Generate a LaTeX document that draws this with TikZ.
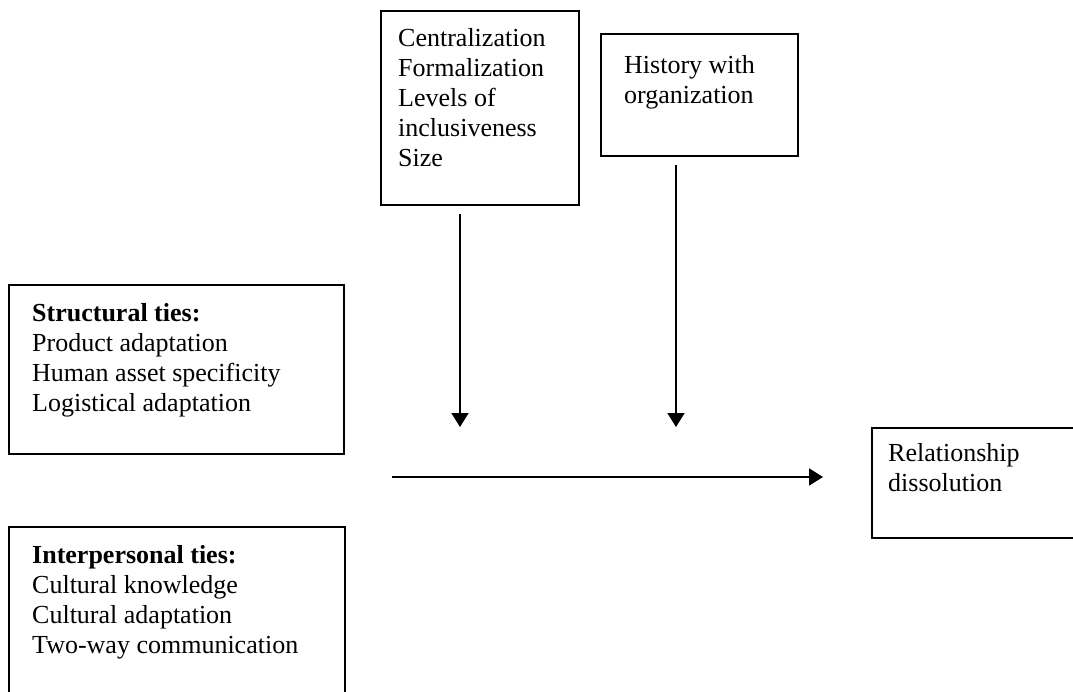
\documentclass[tikz,border=0pt]{standalone}
\usepackage{fontspec}
\setmainfont{Liberation Serif}
\usetikzlibrary{positioning, arrows.meta}

\newcommand{\boxlines}[3]{\parbox[c][#2][t]{#1}{#3}}

\begin{document}
\begin{tikzpicture}[x=0.5pt, y=-0.5pt,
    every node/.style={font=\fontsize{13}{15}\selectfont},
    factor/.style={draw, line width=1.2pt, anchor=north west, inner sep=0pt},
    link/.style={-{Triangle[length=7pt,width=8.5pt]}, line width=0.9pt}]
  \useasboundingbox (0,0) rectangle (1073,692);
  \node[factor, inner xsep=8.5pt, inner ysep=8.5pt] (org) at (380,10)
    {\boxlines{82pt}{80pt}{Centralization\\Formalization\\Levels of\\inclusiveness\\Size}};
  \node[factor, inner xsep=11.5pt, inner ysep=10.5pt] (hist) at (600,33)
    {\boxlines{75.5pt}{40pt}{History with\\organization}};
  \node[factor, inner xsep=11.5pt, inner ysep=9pt] (struct) at (8,284)
    {\boxlines{144.5pt}{66.5pt}{\textbf{Structural ties:}\\Product adaptation\\Human asset specificity\\Logistical adaptation}};
  \node[factor, inner xsep=11.5pt, inner ysep=9pt] (inter) at (8,526)
    {\boxlines{145pt}{79pt}{\textbf{Interpersonal ties:}\\Cultural knowledge\\Cultural adaptation\\Two-way communication}};
  \node[factor, inner xsep=8pt, inner ysep=7.5pt] (dis) at (871,427)
    {\boxlines{91pt}{40pt}{Relationship\\dissolution}};
  % moderating arrows
  \coordinate (m1) at (460,427);
  \coordinate (m2) at (676,427);
  \draw[link] ([yshift=-4pt]org.south -| m1) -- (m1);
  \draw[link] ([yshift=-4pt]hist.south -| m2) -- (m2);
  % main effect
  \coordinate (p0) at (392,477);
  \coordinate (p1) at (823,477);
  \draw[link] (p0) -- (p1);
\end{tikzpicture}
\end{document}
